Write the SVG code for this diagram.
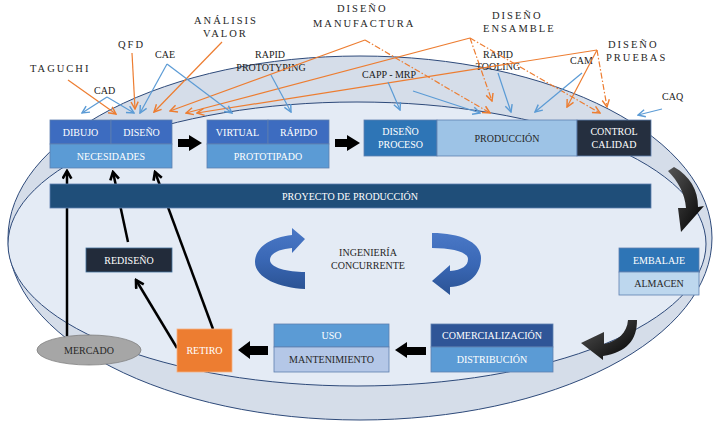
<svg xmlns="http://www.w3.org/2000/svg" width="719" height="428" viewBox="0 0 719 428">
<defs>
<style>
.lbl{font-family:"Liberation Serif","Times New Roman",serif;font-size:10.5px;letter-spacing:2px;fill:#262626}
.sm{font-family:"Liberation Serif","Times New Roman",serif;font-size:10px;fill:#1a1a1a}
.bt{font-family:"Liberation Serif","Times New Roman",serif;font-size:10px;fill:#ffffff;text-anchor:middle}
.dt{font-family:"Liberation Serif","Times New Roman",serif;font-size:10px;fill:#262626;text-anchor:middle}
.bx{stroke:#5E7FAF;stroke-width:0.8}
.or{stroke:#ED7D31;stroke-width:1.2;fill:none;marker-end:url(#ao)}
.od{stroke:#ED7D31;stroke-width:1.2;fill:none;stroke-dasharray:6 2 1.5 2;marker-end:url(#ao)}
.bl{stroke:#5B9BD5;stroke-width:1.2;fill:none;marker-end:url(#ab)}
.bk{stroke:#000;stroke-width:2.5;fill:none;marker-end:url(#ak)}
</style>
<marker id="ao" viewBox="0 0 10 10" refX="9" refY="5" markerWidth="9" markerHeight="9" orient="auto" markerUnits="userSpaceOnUse"><path d="M1,1 L9,5 L1,9" fill="none" stroke="#ED7D31" stroke-width="1.6"/></marker>
<marker id="ab" viewBox="0 0 10 10" refX="9" refY="5" markerWidth="9" markerHeight="9" orient="auto" markerUnits="userSpaceOnUse"><path d="M1,1 L9,5 L1,9" fill="none" stroke="#5B9BD5" stroke-width="1.6"/></marker>
<marker id="ak" viewBox="0 0 10 10" refX="8.5" refY="5" markerWidth="11" markerHeight="11" orient="auto" markerUnits="userSpaceOnUse"><path d="M1.5,1 L8.5,5 L1.5,9" fill="none" stroke="#000" stroke-width="2.4"/></marker>
<linearGradient id="gk" x1="0" y1="0" x2="1" y2="1"><stop offset="0" stop-color="#555"/><stop offset="1" stop-color="#000"/></linearGradient>
<linearGradient id="gb" x1="0" y1="0" x2="0" y2="1"><stop offset="0" stop-color="#4A78C6"/><stop offset="0.5" stop-color="#3A68B6"/><stop offset="1" stop-color="#2B5394"/></linearGradient>
</defs>

<g id="fondo">
<ellipse cx="360" cy="238" rx="352" ry="182" fill="#D5DDE9" stroke="#2E4A7A" stroke-width="1"/>
<ellipse cx="357" cy="244" rx="349" ry="142" fill="#E4EBF5" stroke="#2E4A7A" stroke-width="1"/>
</g>

<g id="etiquetas">
<text class="lbl" x="30" y="72">TAGUCHI</text>
<text class="lbl" x="118" y="48">QFD</text>
<text class="lbl" x="194" y="24">ANÁLISIS</text>
<text class="lbl" x="203" y="37">VALOR</text>
<text class="lbl" x="337" y="12">DISEÑO</text>
<text class="lbl" x="313" y="27">MANUFACTURA</text>
<text class="lbl" x="492" y="19">DISEÑO</text>
<text class="lbl" x="483" y="32">ENSAMBLE</text>
<text class="lbl" x="608" y="48">DISEÑO</text>
<text class="lbl" x="606" y="61">PRUEBAS</text>
<text class="sm" x="94" y="94">CAD</text>
<text class="sm" x="155" y="58">CAE</text>
<text class="sm" x="270" y="58" text-anchor="middle">RAPID</text>
<text class="sm" x="271" y="71" text-anchor="middle">PROTOTYPING</text>
<text class="sm" x="362" y="78">CAPP - MRP</text>
<text class="sm" x="498" y="58" text-anchor="middle">RAPID</text>
<text class="sm" x="498" y="70" text-anchor="middle">TOOLING</text>
<text class="sm" x="570" y="64">CAM</text>
<text class="sm" x="662" y="100">CAQ</text>
</g>

<g id="conectores">
<line class="or" x1="68" y1="80" x2="116" y2="114"/>
<line class="or" x1="132" y1="53" x2="135" y2="109"/>
<line class="or" x1="222" y1="42" x2="154" y2="112"/>
<line class="or" x1="365" y1="40" x2="170" y2="111"/>
<line class="or" x1="470" y1="38" x2="186" y2="113"/>
<line class="or" x1="597" y1="50" x2="197" y2="113"/>
<line class="or" x1="597" y1="50" x2="567" y2="107"/>
<line class="od" x1="365" y1="40" x2="490" y2="113"/>
<line class="od" x1="470" y1="38" x2="492" y2="101"/>
<line class="od" x1="470" y1="38" x2="600" y2="113"/>
<line class="od" x1="597" y1="50" x2="607" y2="107"/>
<line class="bl" x1="107" y1="97" x2="82" y2="113"/>
<line class="bl" x1="107" y1="97" x2="134" y2="113"/>
<line class="bl" x1="167" y1="64" x2="140" y2="113"/>
<line class="bl" x1="167" y1="64" x2="232" y2="113"/>
<line class="bl" x1="271" y1="75" x2="291" y2="112"/>
<line class="bl" x1="388" y1="82" x2="400" y2="110"/>
<line class="bl" x1="413" y1="91" x2="480" y2="113"/>
<line class="bl" x1="498" y1="73" x2="511" y2="112"/>
<line class="bl" x1="582" y1="73" x2="535" y2="112"/>
<line class="bl" x1="662" y1="109" x2="638" y2="115"/>
<line class="bk" x1="67" y1="336" x2="67" y2="171"/>
<line class="bk" x1="128" y1="242" x2="113" y2="172"/>
<line class="bk" x1="213" y1="329" x2="155" y2="172"/>
<line class="bk" x1="177" y1="348" x2="136" y2="280"/>
<polygon points="178,139 189,139 189,135 202,143 189,151 189,147 178,147" fill="#000"/>
<polygon points="335,139 347,139 347,135 360,143 347,151 347,147 335,147" fill="#000"/>
<polygon points="268,346 250,346 250,341 238,350 250,359 250,355 268,355" fill="#000"/>
<polygon points="426,347 407,347 407,342 395,350 407,358 407,355 426,355" fill="#000"/>
<path d="M668,171 L674,167 C690,176 698,190 698,207 L704,206 L681,232 L678,208 L686,208 C685,194 678,181 668,171 Z" fill="url(#gk)"/>
<path d="M628,320 L637,320 C637,340 627,352 603,356 L603,360 L581,343 L604,332 L604,344 C618,341 627,333 628,320 Z" fill="url(#gk)"/>
</g>

<g id="ciclo">
<path d="M292,235 C266,238 255,250 255,262 C255,278 280,288 305,289 L305,272 C288,272 270,268 270,260 C270,253 280,249 292,248 L292,253 L305,239 L292,228 Z" fill="url(#gb)"/>
<path d="M432,233 C462,233 481,243 481,258 C481,275 468,286 450,287 L450,295 L432,281 L450,265 L450,271 C462,270 468,266 468,259 C468,252 452,248 432,248 Z" fill="url(#gb)"/>
<text class="dt" x="368" y="256">INGENIERÍA</text>
<text class="dt" x="368" y="269">CONCURRENTE</text>
</g>

<g id="necesidades">
<rect class="bx" x="50" y="120" width="61" height="24" fill="#3D6CC0"/>
<rect class="bx" x="111" y="120" width="61" height="24" fill="#3D6CC0"/>
<rect class="bx" x="50" y="144" width="122" height="24" fill="#5B9BD5"/>
<text class="bt" x="80.5" y="136">DIBUJO</text>
<text class="bt" x="141.5" y="136">DISEÑO</text>
<text class="bt" x="111" y="160">NECESIDADES</text>
</g>

<g id="prototipado">
<rect class="bx" x="207" y="120" width="61" height="24" fill="#3D6CC0"/>
<rect class="bx" x="268" y="120" width="61" height="24" fill="#3D6CC0"/>
<rect class="bx" x="207" y="144" width="122" height="24" fill="#5B9BD5"/>
<text class="bt" x="237.5" y="136">VIRTUAL</text>
<text class="bt" x="298.5" y="136">RÁPIDO</text>
<text class="bt" x="268" y="160">PROTOTIPADO</text>
</g>

<g id="produccion">
<rect class="bx" x="364" y="120" width="73" height="36" fill="#2E75B6"/>
<rect class="bx" x="437" y="120" width="140" height="36" fill="#9DC3E6"/>
<rect class="bx" x="577" y="120" width="74" height="36" fill="#252F3F"/>
<text class="bt" x="400.5" y="135">DISEÑO</text>
<text class="bt" x="400.5" y="148">PROCESO</text>
<text class="dt" x="507" y="142">PRODUCCIÓN</text>
<text class="bt" x="614" y="135">CONTROL</text>
<text class="bt" x="614" y="148">CALIDAD</text>
</g>

<g id="proyecto">
<rect class="bx" x="50" y="184" width="601" height="24" fill="#1F4E79"/>
<text class="bt" x="350" y="200">PROYECTO DE PRODUCCIÓN</text>
</g>

<g id="embalaje">
<rect class="bx" x="619" y="248" width="80" height="24" fill="#2E75B6"/>
<rect class="bx" x="619" y="272" width="80" height="23" fill="#BDD7EE"/>
<text class="bt" x="659" y="264">EMBALAJE</text>
<text class="dt" x="659" y="287">ALMACEN</text>
</g>

<g id="comercializacion">
<rect class="bx" x="431" y="324" width="122" height="23" fill="#2F5597"/>
<rect class="bx" x="431" y="347" width="122" height="25" fill="#5B9BD5"/>
<text class="bt" x="492" y="339">COMERCIALIZACIÓN</text>
<text class="bt" x="492" y="363">DISTRIBUCIÓN</text>
</g>

<g id="uso">
<rect class="bx" x="274" y="324" width="115" height="23" fill="#5B9BD5"/>
<rect class="bx" x="274" y="347" width="115" height="25" fill="#B4C7E7"/>
<text class="bt" x="331.5" y="339">USO</text>
<text class="dt" x="331.5" y="363">MANTENIMIENTO</text>
</g>

<g id="retiro">
<rect x="177" y="329" width="55" height="43" fill="#ED7D31" stroke="#F4B183" stroke-width="0.8"/>
<text class="bt" x="204.5" y="354">RETIRO</text>
</g>

<g id="rediseno">
<rect x="86" y="248" width="86" height="24" fill="#222B3A" stroke="#41719C" stroke-width="0.8"/>
<text class="bt" x="129" y="264">REDISEÑO</text>
</g>

<g id="mercado">
<ellipse cx="89" cy="350" rx="52" ry="15" fill="#A6A6A6" stroke="#7F7F7F" stroke-width="0.8"/>
<text class="dt" x="89" y="354">MERCADO</text>
</g>
</svg>
